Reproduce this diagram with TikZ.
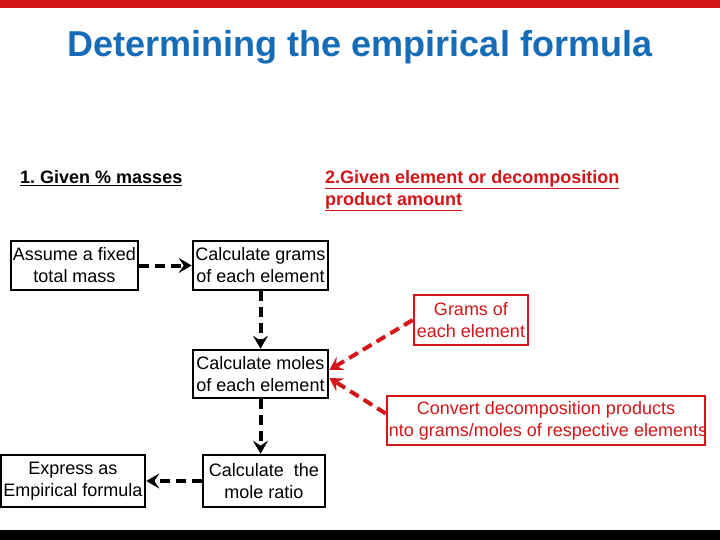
\documentclass[tikz,border=0pt]{standalone}
\usepackage{fontspec}
\setmainfont{Liberation Sans}
\usepackage{tikz}
\usetikzlibrary{arrows.meta,positioning}
\definecolor{slidered}{RGB}{212,22,24}
\definecolor{titleblue}{RGB}{22,108,182}
\tikzset{box/.style={draw=black,line width=2.6pt,fill=white,align=center,
 inner sep=2pt,minimum height=49pt,font=\fontsize{18}{22}\selectfont},
 redbox/.style={box,draw=slidered,text=slidered},
 head/.style={inner sep=0pt,font=\fontsize{18}{22}\selectfont\bfseries},
 arr/.style={-{Stealth[length=13pt,width=15pt,inset=5pt]},line width=4pt,
 dash pattern=on 10pt off 6pt},
 redarr/.style={arr,draw=slidered,fill=slidered}}
\frenchspacing

\begin{document}
\begin{tikzpicture}[x=1pt,y=-1pt]
\useasboundingbox (0,0) rectangle (720,540);
\fill[white] (0,0) rectangle (720,540);
\fill[slidered] (0,0) rectangle (720,8);
\fill[black] (0,530) rectangle (720,540);
\node[font=\fontsize{36}{40}\selectfont\bfseries,text=titleblue] (title) at (360,47) {Determining the empirical formula};
\node[head,anchor=west] (case1) at (20,178) {\underline{1. Given \% masses}};
\node[head,anchor=north west,align=left,text=slidered] (case2) at (325,170) {\underline{2.Given element or decomposition}\\\underline{product amount}};
\node[box,minimum width=125pt] (fixed) at (74.5,265.5) {Assume a fixed\\total mass};
\node[box,minimum width=135pt] (grams) at (260.5,265.5) {Calculate grams\\of each element};
\node[box,minimum width=135pt,minimum height=48pt] (moles) at (260.5,374) {Calculate moles\\of each element};
\node[box,minimum width=122pt,minimum height=52pt] (ratio) at (264,481) {Calculate\ \ the\\mole ratio};
\node[box,minimum width=144pt,minimum height=52pt] (formula) at (73,481) {Express as\\Empirical formula};
\node[redbox,minimum width=114pt,minimum height=50pt] (elgrams) at (471,320) {Grams of\\each element};
\node[redbox,minimum width=318pt] (convert) at (546,420.5) {\makebox[300pt]{Convert decomposition products}\\\makebox[300pt]{into grams/moles of respective elements}};
\draw[arr] (fixed)--(grams);
\draw[arr] (grams)--(moles);
\draw[arr] (moles)--(moles |- ratio.north);
\draw[arr] (ratio)--(formula);
\draw[redarr] (elgrams.west)--([yshift=4pt]moles.east);
\draw[redarr] ([yshift=7pt]convert.west)--([yshift=-4pt]moles.east);
\end{tikzpicture}
\end{document}
